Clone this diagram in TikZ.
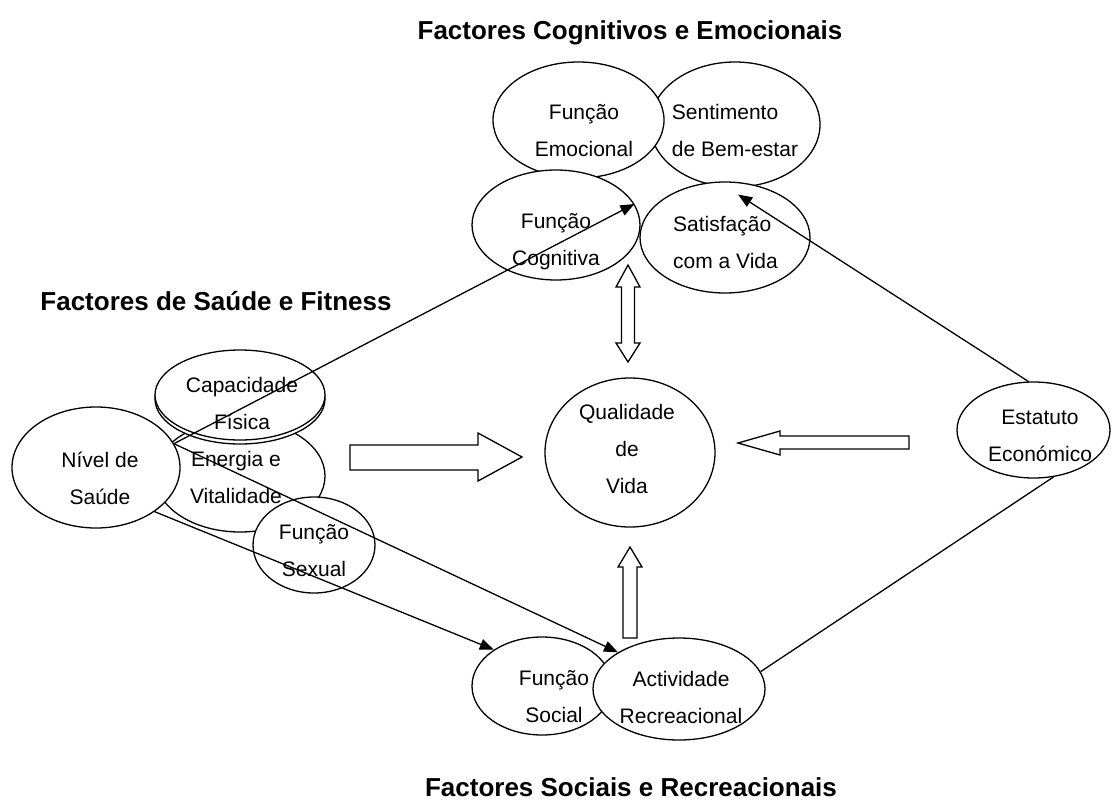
\documentclass[tikz,border=0pt]{standalone}
\usepackage{fontspec}
\setmainfont{Liberation Sans}
\usetikzlibrary{shapes.geometric,arrows.meta,calc}
\begin{document}
\begin{tikzpicture}[x=1pt,y=-1pt,
  bub/.style={ellipse,draw,fill=white,line width=1.3pt,inner sep=0pt},
  txt/.style={align=center,font=\fontsize{21}{37}\selectfont,inner sep=0pt},
  ttl/.style={font=\fontsize{26}{30}\selectfont\bfseries,anchor=base,inner sep=0pt},
  con/.style={line width=1.3pt},
  arr/.style={con,-{Triangle[length=14pt,width=11pt]}},
  blk/.style={draw,fill=white,line width=1.3pt,line join=miter}
]
\useasboundingbox (0,0) rectangle (1115,800);

% bubbles
\node[bub,minimum width=170pt,minimum height=125pt] (sentim) at (735,124.5) {};
\node[bub,minimum width=171pt,minimum height=116pt] (emoc) at (578.5,120) {};
\node[bub,minimum width=168pt,minimum height=110pt] (cogn) at (556,225) {};
\node[bub,minimum width=170pt,minimum height=111pt] (satisf) at (725,237.5) {};
\node[bub,minimum width=170pt,minimum height=112pt] (energia) at (240,476) {};
\node[bub,minimum width=168pt,minimum height=121pt] (nivel) at (96,467.5) {};
\node[bub,minimum width=170pt,minimum height=90pt] (capshadow) at (240,399) {};
\node[bub,minimum width=170pt,minimum height=90pt] (capac) at (240,395) {};
\node[bub,minimum width=122pt,minimum height=96pt] (sexual) at (314,545) {};
\node[bub,minimum width=140pt,minimum height=98pt] (social) at (542,686) {};
\node[bub,minimum width=172pt,minimum height=102pt] (activ) at (679,689) {};
\node[bub,minimum width=170pt,minimum height=149pt] (qdv) at (630,452.5) {};
\node[bub,minimum width=153pt,minimum height=96pt] (estat) at (1033.5,430) {};

% texts
\node[txt] (emoc-t) at (584,130.5) {Função\\Emocional};
\node[txt,align=left] (sentim-t) at (735,130.5) {Sentimento\\de Bem-estar};
\node[txt] (cogn-t) at (556,242) {Função\\Cognitiva};
\node[txt,align=left] (satisf-t) at (725.5,242) {Satisfação\\com a Vida};
\node[txt] (nivel-t) at (100,478.5) {Nível de\\Saúde};
\node[txt] (capac-t) at (242,403) {Capacidade\\Física};
\node[txt] (energia-t) at (236,477) {Energia e\\Vitalidade};
\node[txt] (sexual-t) at (314,550.5) {Função\\Sexual};
\node[txt] (qdv-t) at (627,449) {Qualidade\\de\\Vida};
\node[txt] (estat-t) at (1040,435.5) {Estatuto\\Económico};
\node[txt] (social-t) at (554,697) {Função\\Social};
\node[txt] (activ-t) at (681,697) {Actividade\\Recreacional};

% titles
\node[ttl] (t-cog) at (630,40) {Factores Cognitivos e Emocionais};
\node[ttl] (t-sau) at (216,310) {Factores de Saúde e Fitness};
\node[ttl] (t-soc) at (631,796) {Factores Sociais e Recreacionais};

% block arrows
\draw[blk] (350,445) -- (478,445) -- (478,433) -- (522,457) -- (478,481) -- (478,470) -- (350,470) -- cycle;
\draw[blk] (909,436) -- (780,436) -- (780,431) -- (738,443) -- (780,455) -- (780,449) -- (909,449) -- cycle;
\draw[blk] (628,265) -- (640,287) -- (634.5,287) -- (634.5,343) -- (640,343) -- (628,362) -- (616,343) -- (621.5,343) -- (621.5,287) -- (616,287) -- cycle;
\draw[blk] (630,547) -- (642,567) -- (637,567) -- (637,638) -- (623,638) -- (623,567) -- (618,567) -- cycle;

% connectors
\draw[arr] (nivel.17) -- (cogn.15);
\draw[arr] (nivel.17) -- (activ.149);
\draw[arr] (nivel.-37) -- (social.143);
\draw[arr] (estat.96) -- ($(satisf.center)!0.78!(satisf.73)$);
\draw[con] (estat.-67) -- (activ.12);
\end{tikzpicture}
\end{document}
